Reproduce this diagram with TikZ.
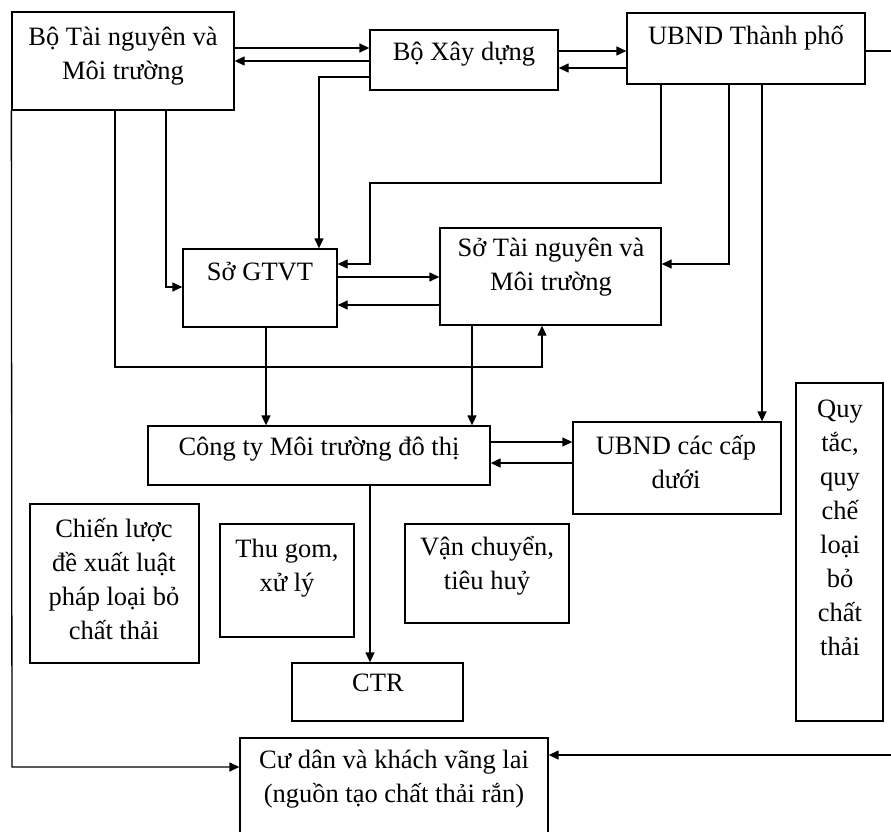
\documentclass[tikz,border=0pt]{standalone}
\usepackage{fontspec}
\setmainfont{Liberation Serif}
\usetikzlibrary{arrows.meta,fit}
\begin{document}
\begin{tikzpicture}[x=1pt,y=-1pt,
  box/.style={draw, line width=1.3pt, inner sep=0pt, fit={#1}},
  txt/.style={align=center, inner sep=0pt, font=\fontsize{26.5}{34}\selectfont},
  arr/.style={-{Triangle[length=10pt,width=9pt]}, line width=1.3pt},
  ln/.style={line width=1.3pt}]
\useasboundingbox (0,0) rectangle (891,832);
% boxes
\node[box={(12,12) (234,110)}] (btn) {};
\node[box={(370,30) (558,90)}] (bxd) {};
\node[box={(627,13) (865,84)}] (ubnd) {};
\node[box={(183,249) (337,327)}] (gtvt) {};
\node[box={(440,228) (661,325)}] (stn) {};
\node[box={(148,426) (490,485)}] (cty) {};
\node[box={(573,422) (781,514)}] (ubndc) {};
\node[box={(30,504) (199,663)}] (chien) {};
\node[box={(220,524) (354,637)}] (thugom) {};
\node[box={(405,524) (569,623)}] (vanch) {};
\node[box={(292,663) (463,721)}] (ctr) {};
\node[box={(796,383) (883,721)}] (quytac) {};
\node[box={(240,738) (548,850)}] (cudan) {};
% texts
\node[txt] (btnT) at (123,56) {Bộ Tài nguyên và\\Môi trường};
\node[txt] (bxdT) at (464,54) {Bộ Xây dựng};
\node[txt] (ubndT) at (746,38) {UBND Thành phố};
\node[txt] (gtvtT) at (260,272) {Sở GTVT};
\node[txt] (stnT) at (551,267) {Sở Tài nguyên và\\Môi trường};
\node[txt] (ctyT) at (319,449) {Công ty Môi trường đô thị};
\node[txt] (ubndcT) at (676,462) {UBND các cấp\\dưới};
\node[txt] (chienT) at (114,579) {Chiến lược\\đề xuất luật\\pháp loại bỏ\\chất thải};
\node[txt] (thugomT) at (287,568) {Thu gom,\\xử lý};
\node[txt] (vanchT) at (487,566) {Vận chuyển,\\tiêu huỷ};
\node[txt] (ctrT) at (378,683) {CTR};
\node[txt] (quytacT) at (840,528) {Quy\\tắc,\\quy\\chế\\loại\\bỏ\\chất\\thải};
\node[txt] (cudanT) at (394,779) {Cư dân và khách vãng lai\\(nguồn tạo chất thải rắn)};
% connectors
\draw[arr] (btn.east |- 0,48) -- (bxd.west |- 0,48);
\draw[arr] (bxd.west |- 0,61) -- (btn.east |- 0,61);
\draw[arr] (bxd.east |- 0,51) -- (ubnd.west |- 0,51);
\draw[arr] (ubnd.west |- 0,68) -- (bxd.east |- 0,68);
\draw[arr] (bxd.west |- 0,77) -| (gtvt.north -| 319,0);
\draw[arr] (btn.south -| 166,0) |- (gtvt.west |- 0,287);
\draw[arr] (btn.south -| 115,0) -- (115,367) -| (stn.south -| 542,0);
\draw[arr] (btn.south west) -- (12,767) -- (cudan.west |- 0,767);
\draw[arr] (ubnd.south -| 661,0) -- (661,183) -- (370,183) |- (gtvt.east |- 0,264);
\draw[arr] (ubnd.south -| 729,0) |- (stn.east |- 0,264);
\draw[arr] (ubnd.south -| 762,0) -- (ubndc.north -| 762,0);
\draw[arr] (gtvt.east |- 0,277) -- (stn.west |- 0,277);
\draw[arr] (stn.west |- 0,305) -- (gtvt.east |- 0,305);
\draw[arr] (gtvt.south -| 266,0) -- (cty.north -| 266,0);
\draw[arr] (stn.south -| 472,0) -- (cty.north -| 472,0);
\draw[arr] (cty.east |- 0,442) -- (ubndc.west |- 0,442);
\draw[arr] (ubndc.west |- 0,463) -- (cty.east |- 0,463);
\draw[arr] (cty.south -| 370,0) -- (ctr.north -| 370,0);
\draw[arr] (ubnd.east |- 0,51) -- (897,51) -- (897,755) -- (cudan.east |- 0,755);
\end{tikzpicture}
\end{document}
